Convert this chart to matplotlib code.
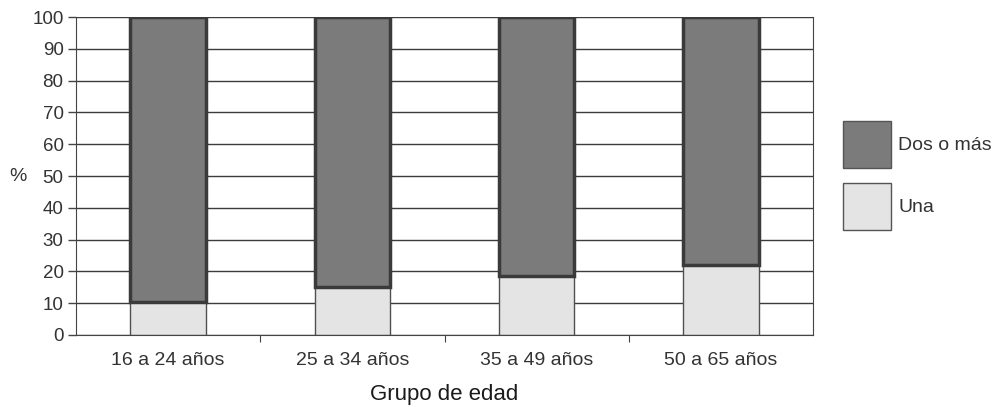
import matplotlib.pyplot as plt
import numpy as np
from matplotlib.patches import Patch

plt.rcParams["font.family"] = ["Liberation Sans", "DejaVu Sans"]

# datos
grupos = ["16 a 24 años", "25 a 34 años", "35 a 49 años", "50 a 65 años"]
una = [10.5, 15, 18.5, 22]
dos_o_mas = [89.5, 85, 81.5, 78]

colorOscuro = "#7b7b7b"
colorClaro = "#e4e4e4"

fig = plt.figure(figsize=(9.98, 4.07), dpi=100)
ax = fig.add_axes([0.0762, 0.177, 0.7384, 0.781])

x = np.arange(len(grupos))
ax.set_axisbelow(True)
ax.yaxis.grid(True, color="#3c3c3c", linewidth=1.0)

ax.bar(x, una, width=0.41, color=colorClaro, edgecolor="#505050", linewidth=1.0, zorder=2)
ax.bar(x, dos_o_mas, width=0.41, bottom=una, color=colorOscuro,
       edgecolor="#3a3a3a", linewidth=2.5, zorder=3)

ax.set_xlim(-0.5, 3.5)
ax.set_ylim(0, 100)
ax.set_yticks(range(0, 101, 10))
ax.tick_params(axis="y", labelsize=13.5, length=6, color="#444444", width=1,
               labelcolor="#333333", pad=3)

# etiquetas del eje x centradas, ticks entre categorias
ax.set_xticks([0.5, 1.5, 2.5])
ax.set_xticklabels([])
ax.set_xticks(x, minor=True)
ax.set_xticklabels(grupos, minor=True, fontsize=14, color="#333333")
ax.tick_params(axis="x", which="minor", length=0, pad=12)
ax.tick_params(axis="x", which="major", length=5, color="#444444")

for s in ["left", "bottom", "right"]:
    ax.spines[s].set_color("#444444")
ax.spines["top"].set_visible(False)

ax.set_ylabel("%", rotation=0, fontsize=14, color="#333333", labelpad=10, va="center")
ax.set_xlabel("Grupo de edad", fontsize=16, color="#1a1a1a", labelpad=11)

handles = [Patch(facecolor=colorOscuro, edgecolor="#555555", label="Dos o más"),
           Patch(facecolor=colorClaro, edgecolor="#555555", label="Una")]
fig.legend(handles=handles, loc="center left", bbox_to_anchor=(0.8447, 0.569),
           frameon=False, fontsize=14, handlelength=2.47, handleheight=3.34,
           labelspacing=0.77, handletextpad=0.36, borderpad=0, borderaxespad=0,
           labelcolor="#333333")

plt.savefig("out.png", dpi=100)
